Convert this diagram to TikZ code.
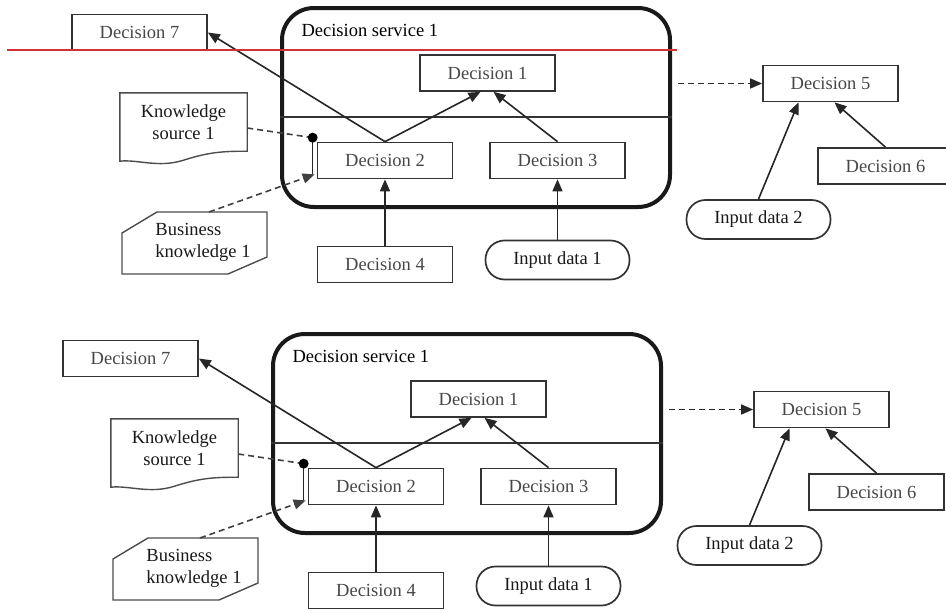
\documentclass[tikz,border=0pt]{standalone}
\usepackage{fontspec}
\setmainfont{Liberation Serif}
\usetikzlibrary{arrows.meta,calc}
\definecolor{marca}{RGB}{208,50,56}

\begin{document}
\begin{tikzpicture}[
        x=1pt, y=-1pt,
        every node/.style={font=\fontsize{18.5}{22}\selectfont, text=black!90},
        decision/.style={draw=black!80, line width=1.7pt, minimum width=135pt, minimum height=36pt, text=black!72},
        inputdata/.style={draw=black!80, line width=1.7pt, rounded corners=19pt, minimum width=144pt, minimum height=39pt},
        service/.style={draw=black!90, line width=4pt, rounded corners=32pt, minimum width=388pt, minimum height=199pt},
        artifact/.style={draw=black!70, line width=1.4pt},
        conn/.style={line width=1.6pt, black!85, -{Triangle[length=12pt,width=10pt]}},
        knowreq/.style={line width=1.6pt, black!75, dash pattern=on 6pt off 4pt}
    ]
    \clip (0,0) rectangle (946,613);
    % Dos copias del mismo diagrama, una encima de otra
    \foreach \p/\dx/\dy in {t/0/0, b/-9/326} {
    \begin{scope}[shift={(\dx,\dy)}, name prefix=\p-]
        % Servicio de decisión con su línea divisoria
        \node[service] (ds) at (476,107.5) {};
        \draw[line width=1.6pt, black!80] ($(ds.west)+(0,9.5)$) -- ($(ds.east)+(0,9.5)$);
        \node[anchor=west, text=black] (dstitle) at ($(ds.north west)+(18,24)$) {Decision service 1};

        % Decisiones y datos de entrada
        \node[decision] (d7) at (139.5,32.5) {Decision 7};
        \node[decision] (d1) at (487.5,73) {Decision 1};
        \node[decision] (d2) at (385,160.5) {Decision 2};
        \node[decision] (d3) at (557.5,160.5) {Decision 3};
        \node[decision] (d4) at (385,264.5) {Decision 4};
        \node[inputdata] (in1) at (557.5,260) {Input data 1};
        \node[decision] (d5) at (830.5,83.5) {Decision 5};
        \node[decision] (d6) at (885.5,166) {Decision 6};
        \node[inputdata] (in2) at (758.5,219.5) {Input data 2};

        % Fuente de conocimiento (documento con borde ondulado)
        \node[minimum width=127pt, minimum height=58pt, align=center] (ks1) at (183.5,122) {Knowledge\\source 1};
        \draw[artifact] (ks1.north west) -- (ks1.north east) -- (ks1.south east)
            .. controls +(-25,0) and +(25,-8) .. ($(ks1.south)+(0,9)$)
            .. controls +(-25,8) and +(18,-2) .. ($(ks1.south west)+(0,10)$) -- cycle;

        % Conocimiento de negocio (esquinas cortadas)
        \node[align=left] (bk1) at (203,242) {Business\\knowledge 1};
        \draw[artifact, shift={(bk1.center)}] (-46,-30) -- (64,-30) -- (64,15) -- (25,32)
            -- (-81,32) -- (-81,-9) -- cycle;
        \coordinate (bktop) at ($(bk1.center)+(6,-30)$);

        % Requisitos de conocimiento hacia Decision 2
        \coordinate (dot) at ($(d2.north west)+(-4,-4)$);
        \coordinate (bkin) at ($(d2.south west)+(-2,-5)$);
        \draw[knowreq] ($(ks1.east)+(0,6)$) -- (dot);
        \draw[line width=1.6pt, black!85] (dot) -- (dot |- bkin);
        \fill[black] (dot) circle (5pt);
        \draw[knowreq, -{Triangle[length=12pt,width=10pt]}] (bktop) -- (bkin);

        % Requisitos de información
        \draw[conn] (d2.north) -- (d7.east);
        \draw[conn] (d2.north) -- ($(d1.south)+(-7,0)$);
        \draw[conn] (d3.north) -- ($(d1.south)+(6,0)$);
        \draw[conn] (d4.north) -- (d2.south);
        \draw[conn] (in1.north) -- (d3.south);
        \draw[conn, dash pattern=on 6pt off 4pt] ($(ds.east |- d5.west)+(6,0)$) -- (d5.west);
        \draw[conn] (in2.north) -- ($(d5.south)+(-32,0)$);
        \draw[conn] (d6.north) -- ($(d5.south)+(4,0)$);
    \end{scope}
    }
    % Línea roja sobre la copia de arriba
    \draw[marca, line width=2.5pt] (7,50) -- (677,50);
\end{tikzpicture}
\end{document}
